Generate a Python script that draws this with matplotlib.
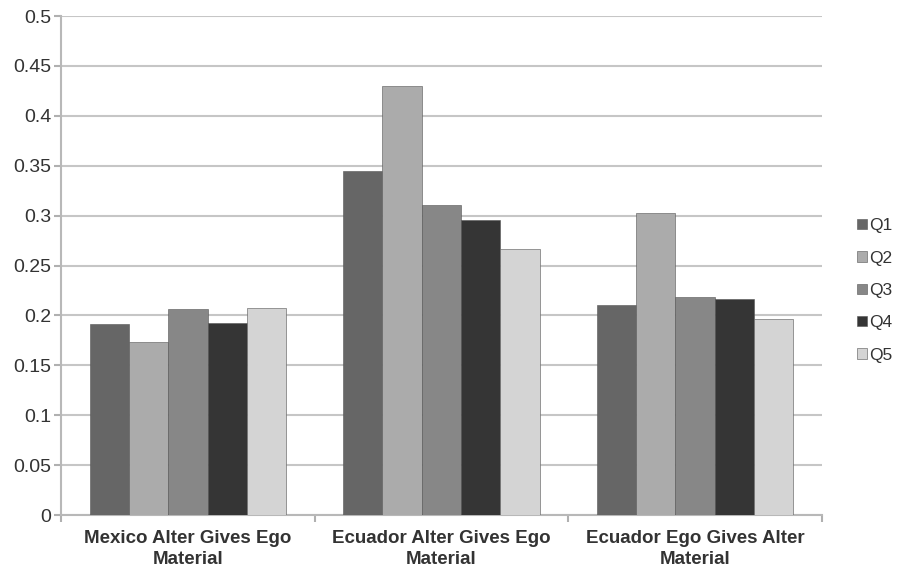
import matplotlib.pyplot as plt
import numpy as np

plt.rcParams['font.family'] = ['Liberation Sans', 'DejaVu Sans']

# data
categories = ['Mexico Alter Gives Ego\nMaterial',
              'Ecuador Alter Gives Ego\nMaterial',
              'Ecuador Ego Gives Alter\nMaterial']
series = ['Q1', 'Q2', 'Q3', 'Q4', 'Q5']
q1 = [0.191, 0.345, 0.211]
q2 = [0.173, 0.430, 0.303]
q3 = [0.207, 0.311, 0.219]
q4 = [0.192, 0.296, 0.217]
q5 = [0.208, 0.267, 0.196]
yticks = [0, 0.05, 0.1, 0.15, 0.2, 0.25, 0.3, 0.35, 0.4, 0.45, 0.5]
ytick_labels = ['0', '0.05', '0.1', '0.15', '0.2', '0.25', '0.3', '0.35', '0.4', '0.45', '0.5']

colors = ['#666666', '#ababab', '#878787', '#353535', '#d4d4d4']
values = [q1, q2, q3, q4, q5]

fig = plt.figure(figsize=(8.99, 5.73), dpi=100)
ax = fig.add_axes([0.068, 0.101, 0.846, 0.871])

x = np.arange(len(categories))
w = 0.155
for i, (name, vals) in enumerate(zip(series, values)):
    ax.bar(x + (i - 2) * w, vals, width=w, color=colors[i], label=name,
           edgecolor='#555555', linewidth=0.4, zorder=3)

ax.set_xlim(-0.5, 2.5)
ax.set_ylim(0, 0.5)
ax.set_yticks(yticks)
ax.set_yticklabels(ytick_labels, fontsize=14, color='#333333')
ax.yaxis.grid(True, color='#c6c6c6', linewidth=1.5, zorder=0)

# category labels centred, tick marks at the boundaries
ax.set_xticks(x)
ax.set_xticklabels(categories, fontsize=13.5, fontweight='bold', color='#333333',
                   linespacing=1.25)
ax.tick_params(axis='x', length=0, pad=11)
ax.set_xticks([-0.5, 0.5, 1.5, 2.5], minor=True)
ax.tick_params(axis='x', which='minor', length=5, color='#b0b0b0', width=1.5)
ax.tick_params(axis='y', length=5, color='#b0b0b0', width=1.5, pad=2)

for s in ['top', 'right']:
    ax.spines[s].set_visible(False)
for s in ['left', 'bottom']:
    ax.spines[s].set_color('#b8b8b8')
    ax.spines[s].set_linewidth(1.5)

leg = ax.legend(loc='center left', bbox_to_anchor=(1.035, 0.45), frameon=False,
                fontsize=12.5, handlelength=0.55, handleheight=0.55,
                handletextpad=0.15, labelspacing=1.0, borderpad=0)
for t in leg.get_texts():
    t.set_color('#333333')

fig.savefig('out.png', dpi=100)
